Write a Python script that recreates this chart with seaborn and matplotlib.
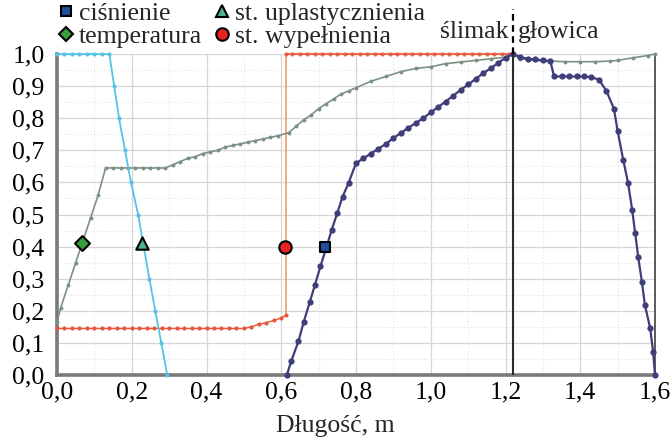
import matplotlib
matplotlib.use('Agg')
import matplotlib.pyplot as plt
from matplotlib.lines import Line2D
from matplotlib.ticker import MultipleLocator, FuncFormatter
import seaborn as sns

# ---------------- data ----------------
uplast_x = [0.00, 0.02, 0.04, 0.06, 0.08, 0.10, 0.12, 0.14, 0.153, 0.166, 0.182,
            0.198, 0.217, 0.232, 0.247, 0.263, 0.279, 0.295]
uplast_y = [1.0, 1.0, 1.0, 1.0, 1.0, 1.0, 1.0, 1.0, 0.9, 0.8, 0.7,
            0.6, 0.5, 0.4, 0.3, 0.2, 0.1, 0.0]

temp_x = [0.00, 0.01, 0.03, 0.05, 0.07, 0.09, 0.11, 0.13, 0.15, 0.17, 0.19, 0.21,
          0.23, 0.25, 0.27, 0.29, 0.31, 0.33, 0.35, 0.37, 0.39, 0.41, 0.43, 0.45,
          0.47, 0.49, 0.51, 0.53, 0.55, 0.57, 0.59, 0.62, 0.64, 0.66, 0.68, 0.70,
          0.72, 0.74, 0.76, 0.78, 0.80, 0.84, 0.88, 0.92, 0.96, 1.00, 1.04, 1.08,
          1.12, 1.16, 1.20, 1.22, 1.24, 1.28, 1.32, 1.36, 1.40, 1.44, 1.48, 1.50,
          1.54, 1.58, 1.60]
temp_y = [0.165, 0.21, 0.28, 0.35, 0.42, 0.49, 0.56, 0.645, 0.645, 0.645, 0.645, 0.645,
          0.645, 0.645, 0.645, 0.645, 0.655, 0.665, 0.675, 0.68, 0.69, 0.695, 0.70, 0.71,
          0.715, 0.72, 0.725, 0.73, 0.735, 0.74, 0.745, 0.755, 0.775, 0.795, 0.81, 0.83,
          0.845, 0.86, 0.875, 0.885, 0.895, 0.915, 0.93, 0.945, 0.955, 0.96, 0.97, 0.975,
          0.98, 0.985, 0.99, 1.0, 0.985, 0.98, 0.978, 0.976, 0.976, 0.976, 0.978, 0.98,
          0.988, 0.995, 1.0]

fill_low_x = [0.00, 0.02, 0.04, 0.06, 0.08, 0.10, 0.12, 0.14, 0.16, 0.18, 0.20, 0.22,
              0.24, 0.26, 0.28, 0.30, 0.32, 0.34, 0.36, 0.38, 0.40, 0.42, 0.44, 0.46,
              0.48, 0.50, 0.52, 0.54, 0.56, 0.58, 0.60, 0.614]
fill_low_y = [0.145, 0.145, 0.145, 0.145, 0.145, 0.145, 0.145, 0.145, 0.145, 0.145,
              0.145, 0.145, 0.145, 0.145, 0.145, 0.145, 0.145, 0.145, 0.145, 0.145,
              0.145, 0.145, 0.145, 0.145, 0.145, 0.145, 0.15, 0.158, 0.163, 0.17,
              0.178, 0.187]
fill_jump_x = [0.614, 0.614]
fill_jump_y = [0.187, 1.0]
fill_top_x = [0.614, 0.63, 0.65, 0.67, 0.69, 0.71, 0.73, 0.75, 0.77, 0.79, 0.81, 0.83,
              0.85, 0.87, 0.89, 0.91, 0.93, 0.95, 0.97, 0.99, 1.01, 1.03, 1.05, 1.07,
              1.09, 1.11, 1.13, 1.15, 1.17, 1.19, 1.21, 1.22]
fill_top_y = [1.0] * 32

press_x = [0.615, 0.627, 0.646, 0.66, 0.676, 0.69, 0.705, 0.72, 0.735, 0.75, 0.764,
           0.78, 0.80, 0.82, 0.84, 0.86, 0.88, 0.90, 0.92, 0.94, 0.96, 0.98, 1.00,
           1.02, 1.04, 1.06, 1.08, 1.10, 1.12, 1.14, 1.16, 1.18, 1.20, 1.22, 1.24,
           1.26, 1.28, 1.30, 1.32, 1.33, 1.35, 1.37, 1.39, 1.41, 1.43, 1.45, 1.47,
           1.49, 1.50, 1.515, 1.528, 1.539, 1.547, 1.555, 1.565, 1.573, 1.587, 1.595,
           1.60]
press_y = [0.0, 0.044, 0.105, 0.165, 0.226, 0.28, 0.339, 0.395, 0.452, 0.505, 0.555,
           0.598, 0.66, 0.675, 0.69, 0.705, 0.72, 0.738, 0.754, 0.77, 0.785, 0.80, 0.818,
           0.835, 0.852, 0.87, 0.888, 0.905, 0.922, 0.94, 0.955, 0.972, 0.988, 1.0, 0.99,
           0.985, 0.983, 0.98, 0.978, 0.93, 0.93, 0.93, 0.93, 0.93, 0.928, 0.92, 0.885,
           0.83, 0.76, 0.67, 0.598, 0.514, 0.442, 0.368, 0.29, 0.218, 0.146, 0.072,
           0.0]

label_x = [0.067, 0.228, 0.611, 0.716]
label_y = [0.41, 0.41, 0.40, 0.40]
series_names = ['temperatura', 'st. uplastycznienia', 'st. wypełnienia', 'ciśnienie']
boundary_x = 1.22
x_ticks = [0.0, 0.2, 0.4, 0.6, 0.8, 1.0, 1.2, 1.4, 1.6]
y_ticks = [0.0, 0.1, 0.2, 0.3, 0.4, 0.5, 0.6, 0.7, 0.8, 0.9, 1.0]

# ---------------- style ----------------
sns.set_theme(style='white')
plt.rcParams['font.family'] = ['Liberation Serif', 'DejaVu Serif']
FS = 18.5

c_cyan = '#55c3e6'
c_temp = '#7b9283'
c_red = '#e8553a'
c_red_v = '#f4a27a'
c_press = '#3e3e78'

fig = plt.figure(figsize=(6.7, 4.38), dpi=100)
ax = fig.add_axes([57 / 670, 1 - 375 / 438, 598 / 670, 321 / 438])

common = dict(ax=ax, sort=False, estimator=None, clip_on=False, legend=False)
sns.lineplot(x=fill_low_x, y=fill_low_y, color=c_red, lw=1.0, marker='o', markersize=3,
             markeredgewidth=0, zorder=3, **common)
sns.lineplot(x=fill_jump_x, y=fill_jump_y, color=c_red_v, lw=1.3, zorder=2, **common)
sns.lineplot(x=fill_top_x, y=fill_top_y, color=c_red, lw=1.5, marker='o', markersize=3,
             markeredgewidth=0, zorder=3, alpha=0.85, **common)
sns.lineplot(x=temp_x, y=temp_y, color=c_temp, lw=1.2, marker='o', markersize=2.8,
             markeredgewidth=0, zorder=4, **common)
sns.lineplot(x=uplast_x, y=uplast_y, color=c_cyan, lw=1.3, marker='o', markersize=3,
             markeredgewidth=0, zorder=4, **common)
sns.lineplot(x=press_x, y=press_y, color=c_press, lw=1.6, marker='o', markersize=4.5,
             markeredgewidth=0, zorder=5, **common)

# boundary screw/head
ax.axvline(boundary_x, color='#2a2a2a', lw=1.5, zorder=6)
ax.plot([boundary_x, boundary_x], [1.0, 1.14], color='black', lw=1.6,
        ls=(0, (3, 2)), clip_on=False, zorder=6)
ax.text(boundary_x - 0.012, 1.07, 'ślimak', ha='right', va='center', fontsize=FS)
ax.text(boundary_x + 0.012, 1.07, 'głowica', ha='left', va='center', fontsize=FS)

# series label markers
mk_style = [('D', '#3a9e3f', 58), ('^', '#4db48a', 80), ('o', '#e82222', 80), ('s', '#1f4e9c', 60)]
for (m, c, sz), xx, yy in zip(mk_style, label_x, label_y):
    sns.scatterplot(x=[xx], y=[yy], ax=ax, marker=m, s=sz,
                    color=c, edgecolor='black', linewidth=1.5, zorder=8, clip_on=False)

# axes
ax.set_xlim(0, 1.6)
ax.set_ylim(0, 1.0)
ax.set_xticks(x_ticks)
ax.set_yticks(y_ticks)
fmt = FuncFormatter(lambda v, p: f'{v:.1f}'.replace('.', ','))
ax.xaxis.set_major_formatter(fmt)
ax.yaxis.set_major_formatter(fmt)
ax.tick_params(axis='both', length=0, labelsize=FS, colors='black')
ax.tick_params(axis='x', pad=5)
ax.tick_params(axis='y', pad=9)
ax.xaxis.set_minor_locator(MultipleLocator(0.1))
ax.yaxis.set_minor_locator(MultipleLocator(0.05))
ax.grid(which='major', color='#d6d6d6', lw=0.9)
ax.grid(which='minor', color='#e2e2e2', lw=0.8, ls=(0, (1, 2)))
ax.set_axisbelow(True)

ax.spines['top'].set_visible(False)
for s in ['left', 'bottom']:
    ax.spines[s].set_color('#7a7a7a')
    ax.spines[s].set_linewidth(2.6)
ax.spines['right'].set_color('#404040')
ax.spines['right'].set_linewidth(1.2)

ax.set_xlabel('Długość, m', fontsize=FS, labelpad=0)
ax.xaxis.set_label_coords((335 - 57) / 598, -0.125)
ax.set_ylabel('')

# legend
def h(m, c, ms):
    return Line2D([], [], marker=m, ls='None', markerfacecolor=c,
                  markeredgecolor='black', markeredgewidth=1.5, markersize=ms)

handles = [h('s', '#1f4e9c', 7.5), h('D', '#3a9e3f', 7.5),
           h('^', '#4db48a', 8.5), h('o', '#e82222', 9)]
labels = ['ciśnienie', 'temperatura', 'st. uplastycznienia', 'st. wypełnienia']
fig.legend(handles, labels, ncol=2, loc='upper left', bbox_to_anchor=(58 / 670, 1 - 2 / 438),
           frameon=False, fontsize=FS, handlelength=0.6, handletextpad=0.2,
           columnspacing=0.5, labelspacing=0.0, borderpad=0, borderaxespad=0)

fig.savefig('out.png', dpi=100)
